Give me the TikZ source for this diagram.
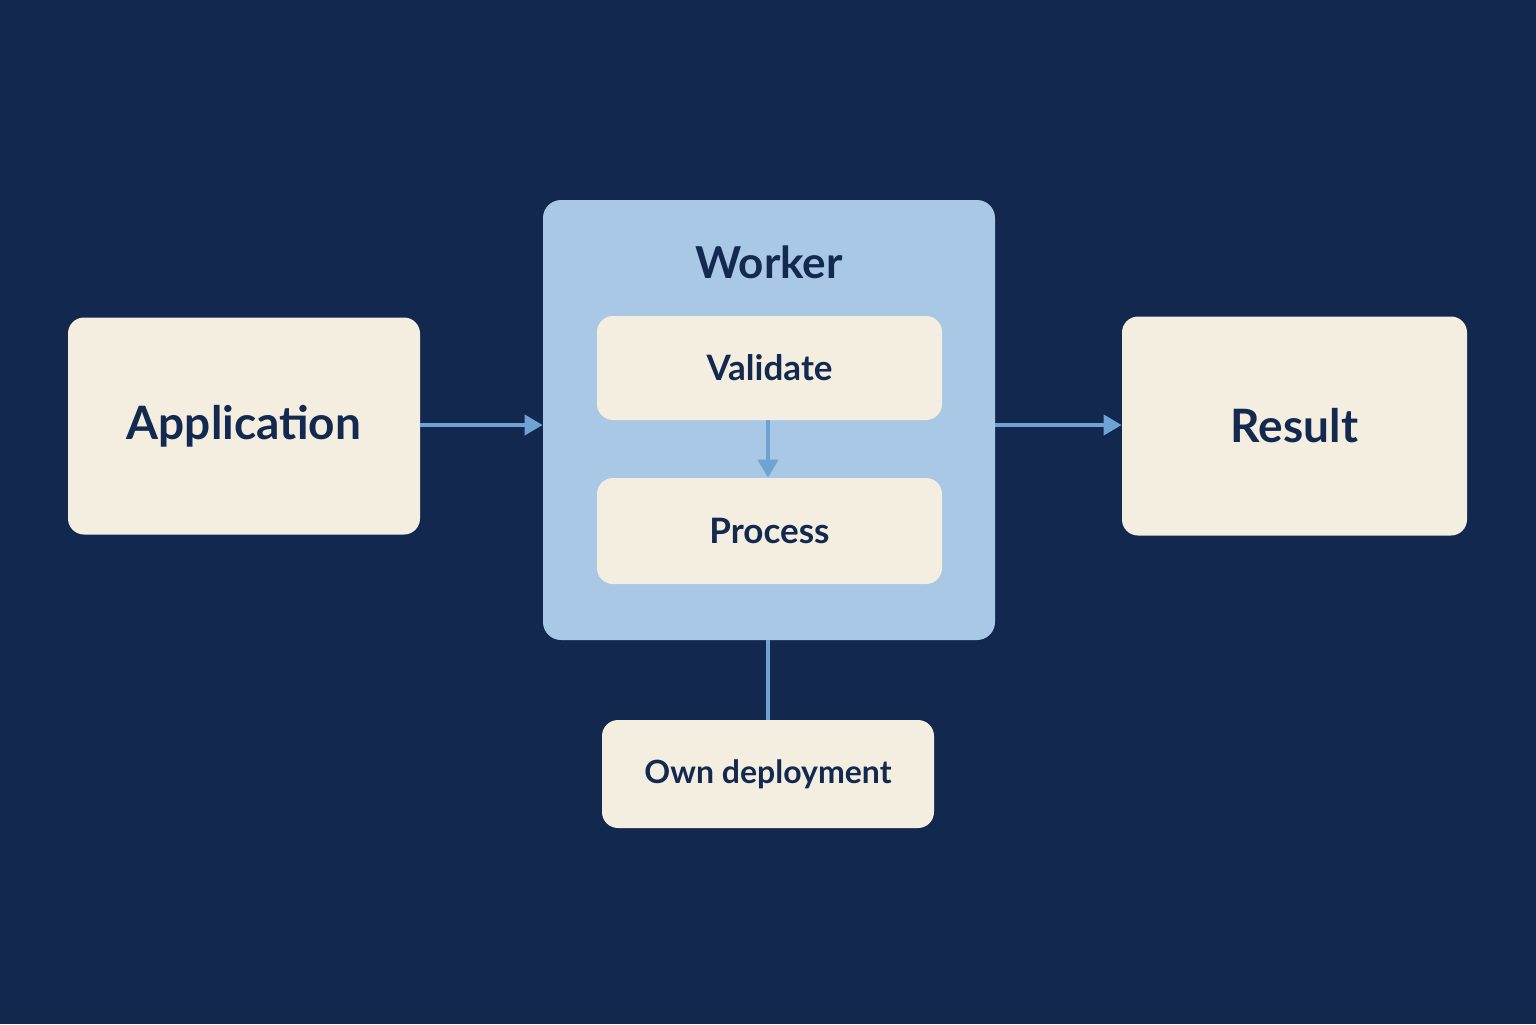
\documentclass[tikz,border=0pt]{standalone}
\usepackage{fontspec}
\setmainfont{Lato}
\usetikzlibrary{arrows.meta}
\definecolor{bg}{HTML}{13284F}
\definecolor{cream}{HTML}{F3EEE0}
\definecolor{lblue}{HTML}{A9C8E6}
\definecolor{navy}{HTML}{14294F}
\definecolor{arr}{HTML}{6FA3D4}
\begin{document}
\begin{tikzpicture}[x=0.5pt,y=-0.5pt,
  box/.style={fill=cream,draw=none,rounded corners=8pt,text=navy,font=\bfseries,inner sep=0pt},
  conn/.style={draw=arr,line width=2pt},
  arrow/.style={conn,-{Triangle[length=9pt,width=10pt]}}]
\fill[bg] (0,0) rectangle (1536,1024);
\node[fill=lblue,rounded corners=9pt,minimum width=226pt,minimum height=220pt,inner sep=0pt] (worker) at (769,420) {};
\node[text=navy,font=\bfseries\fontsize{22}{26}\selectfont] (wt) at (769,262) {Worker};
\node[box,minimum width=176pt,minimum height=108.5pt,font=\bfseries\fontsize{23}{28}\selectfont] (app) at (244,426) {Application};
\node[box,minimum width=172.5pt,minimum height=109.5pt,font=\bfseries\fontsize{23}{28}\selectfont] (res) at (1294.5,426) {Result};
\node[box,minimum width=172.5pt,minimum height=52pt,font=\bfseries\fontsize{17.5}{21}\selectfont] (val) at (769.5,368) {Validate};
\node[box,minimum width=172.5pt,minimum height=53pt,font=\bfseries\fontsize{17.5}{21}\selectfont] (proc) at (769.5,531) {Process};
\node[box,minimum width=166pt,minimum height=54pt,font=\bfseries\fontsize{16}{19}\selectfont] (own) at (768,774) {Own deployment};
\draw[arrow] (app.east |- 0,425) -- (worker.west |- 0,425);
\draw[arrow] (worker.east |- 0,425) -- (res.west |- 0,425);
\draw[arrow] (val.south -| 768,0) -- (proc.north -| 768,0);
\draw[conn] (worker.south -| 768,0) -- (own.north -| 768,0);
\end{tikzpicture}
\end{document}
